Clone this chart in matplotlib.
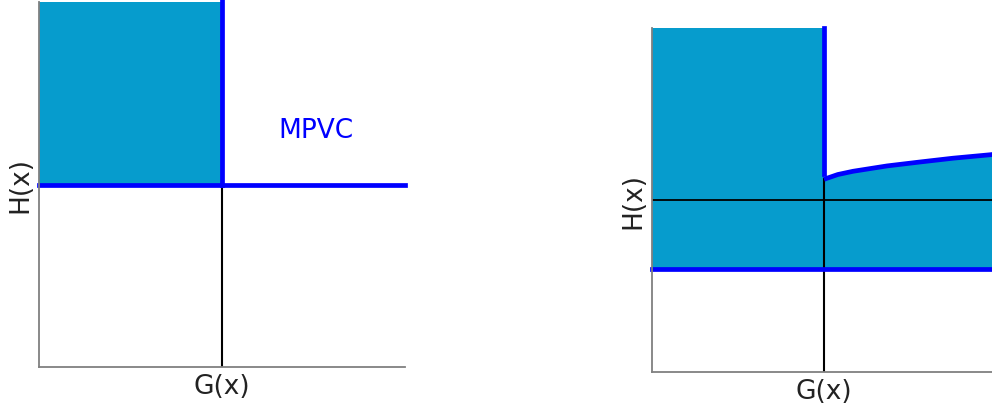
import numpy as np
import matplotlib.pyplot as plt

C_FILL = "#069ccd"
C_LINE = "#0000ff"
C_SPINE = "#808080"

# Left panel (MPVC feasible set): data coordinates in [-1, 1]
x_lo, x_hi = -1.0, 1.0
y_lo, y_hi = -1.0, 1.0
mpvc_h = 0.0          # H(x) = 0 level
mpvc_g = 0.0          # G(x) = 0 level

# Right panel (relaxed set)
relax_h_low = -0.4    # lower blue bound
relax_g = 0.0
relax_vert_end = 0.152
curve_x = [0.0, 0.016, 0.08, 0.169, 0.366, 0.558, 0.75, 0.965, 1.0]
curve_y = [0.12, 0.126, 0.148, 0.167, 0.198, 0.221, 0.243, 0.263, 0.267]

LW = 3.4
FS = 19

fig = plt.figure(figsize=(9.92, 4.06), dpi=100)
ax1 = fig.add_axes([39 / 992, 38 / 406, 366 / 992, 365 / 406])
ax2 = fig.add_axes([652 / 992, 33 / 406, 344 / 992, 344 / 406])

for ax in (ax1, ax2):
    ax.set_xlim(x_lo, x_hi)
    ax.set_ylim(y_lo, y_hi)
    ax.set_xticks([])
    ax.set_yticks([])
    for s in ("top", "right"):
        ax.spines[s].set_visible(False)
    for s in ("left", "bottom"):
        ax.spines[s].set_color(C_SPINE)
        ax.spines[s].set_linewidth(1.3)
    ax.set_xlabel("G(x)", fontsize=FS, color="#222222", labelpad=4)
    ax.set_ylabel("H(x)", fontsize=FS, color="#222222", labelpad=4)

# Left panel
ax1.fill_between([x_lo, mpvc_g], mpvc_h, y_hi, color=C_FILL, linewidth=0)
ax1.plot([mpvc_g, mpvc_g], [y_lo, mpvc_h], color="black", lw=1.5)
ax1.plot([mpvc_g, mpvc_g], [mpvc_h, y_hi + 0.02], color=C_LINE, lw=LW,
         solid_capstyle="projecting", clip_on=False)
ax1.plot([x_lo, x_hi], [mpvc_h, mpvc_h], color=C_LINE, lw=LW,
         solid_capstyle="projecting", clip_on=False)
ax1.text(0.514, 0.30, "MPVC", color=C_LINE, fontsize=FS, ha="center", va="center")

# Right panel
ax2.fill_between([x_lo, relax_g], relax_h_low, y_hi, color=C_FILL, linewidth=0)
ax2.fill_between(curve_x, relax_h_low, curve_y, color=C_FILL, linewidth=0)
ax2.axhline(0.0, color="black", lw=1.3)
ax2.plot([relax_g, relax_g], [y_lo, curve_y[0]], color="black", lw=1.5)
ax2.plot([relax_g, relax_g], [relax_vert_end, y_hi], color=C_LINE, lw=LW,
         solid_capstyle="projecting", clip_on=False)
ax2.plot(curve_x, curve_y, color=C_LINE, lw=LW, solid_capstyle="butt")
ax2.plot([x_lo, x_hi], [relax_h_low, relax_h_low], color=C_LINE, lw=LW,
         solid_capstyle="projecting", clip_on=False)

fig.savefig("out.png", dpi=100)
